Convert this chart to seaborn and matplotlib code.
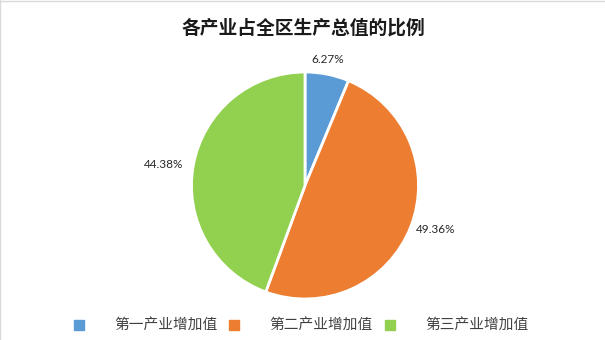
import numpy as np
import matplotlib
matplotlib.use("Agg")
import matplotlib.pyplot as plt
import seaborn as sns
from matplotlib.lines import Line2D

title = "各产业占全区生产总值的比例"
categories = ["第一产业增加值", "第二产业增加值", "第三产业增加值"]
values = [6.27, 49.36, 44.38]
labels = ["6.27%", "49.36%", "44.38%"]

sns.set_style("white")
plt.rcParams['font.family'] = ['Noto Sans CJK SC', 'DejaVu Sans']
colors = sns.color_palette(["#5B9BD5", "#ED7D31", "#92D050"])

W, H = 605, 340
fig = plt.figure(figsize=(W / 100, H / 100), dpi=100)
fig.patch.set_facecolor("white")

cx, cy, r = 305, 185.5, 113.5
ax = fig.add_axes([(cx - r) / W, 1 - (cy + r) / H, 2 * r / W, 2 * r / H])
wedges, _ = ax.pie(values, colors=colors, startangle=90, counterclock=False,
                   wedgeprops=dict(edgecolor="white", linewidth=2))
ax.set_xlim(-1, 1)
ax.set_ylim(-1, 1)
ax.set_aspect("auto")
ax.axis("off")

# label placement (distance in radii, angular nudge in degrees)
dists = [1.13, 1.216, 1.256]
nudges = [1.2, 3.0, 1.5]
for w, lab, d, n in zip(wedges, labels, dists, nudges):
    ang = np.deg2rad((w.theta1 + w.theta2) / 2 + n)
    ax.text(d * np.cos(ang), d * np.sin(ang), lab, ha="center", va="center",
            fontsize=8.5, color="#262626", family=['Lato', 'DejaVu Sans'], clip_on=False)

fig.text(303 / W, 1 - 28 / H, title, ha="center", va="center", fontsize=13.5,
         fontweight="bold", color="#1a1a1a")

handles = [Line2D([0], [0], marker="s", linestyle="", markersize=6.5,
                  markerfacecolor=c, markeredgecolor=c) for c in colors]
leg = fig.legend(handles, categories, loc="center", bbox_to_anchor=(301.5 / W, 1 - 326 / H),
                 ncol=3, frameon=False, fontsize=10.6, handletextpad=2.1,
                 columnspacing=0.86, handlelength=0.6)
for t in leg.get_texts():
    t.set_color("#404040")

fig.add_artist(Line2D([0, 1], [0.9985, 0.9985], transform=fig.transFigure, color="#D9D9D9", lw=1))
fig.add_artist(Line2D([0.0008, 0.0008], [0, 1], transform=fig.transFigure, color="#D9D9D9", lw=1))

fig.savefig("out.png", dpi=100, facecolor="white")
